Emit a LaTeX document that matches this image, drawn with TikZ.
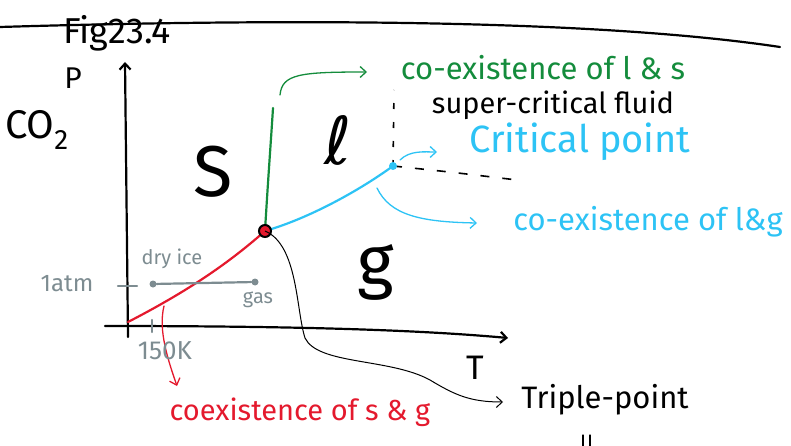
\documentclass[tikz,border=0pt]{standalone}
\usepackage{fontspec}
\setmainfont{Fira Sans}
\newfontfamily\scriptell{DejaVu Sans}
\usetikzlibrary{arrows.meta}

\definecolor{phgreen}{RGB}{20,140,60}
\definecolor{phblue}{RGB}{45,195,245}
\definecolor{phred}{RGB}{228,25,45}
\definecolor{phgrey}{RGB}{125,140,145}

\begin{document}
\begin{tikzpicture}[
    x=1pt, y=-1pt,
    ink/.style={line width=2.2pt, line cap=round},
    fine/.style={line width=1.3pt, line cap=round},
    arrow/.style={-{Straight Barb[length=6pt, width=11pt]}},
    txt/.style={inner sep=0pt, font=\fontsize{31}{34}\selectfont},
    phase/.style={inner sep=0pt, font=\fontsize{72}{74}\selectfont},
    small/.style={inner sep=0pt, font=\fontsize{20}{22}\selectfont, text=phgrey},
    dot/.style={circle, inner sep=0pt, minimum size=8pt}
]
    \useasboundingbox (0,0) rectangle (791,446);

    % Heading rule and title
    \coordinate (ruleL) at (0,27);
    \coordinate (ruleR) at (780,47);
    \draw[ink] (ruleL) .. controls (300,18) and (600,20) .. (ruleR);
    \node[txt, font=\fontsize{36}{38}\selectfont] (fig) at (117,33) {Fig23.4};
    \node[txt, font=\fontsize{30}{32}\selectfont] (plabel) at (73,78) {P};
    \node[txt, font=\fontsize{40}{42}\selectfont] (co2) at (37,130) {CO\textsubscript{2}};

    % Axes
    \coordinate (ybot) at (128,337);
    \coordinate (ytop) at (125,62);
    \coordinate (xleft) at (105,326);
    \coordinate (xright) at (508,338);
    \draw[ink, arrow] (ybot) -- (ytop);
    \draw[ink, arrow] (xleft) .. controls (300,326) and (420,330) .. (xright);
    \node[txt, font=\fontsize{34}{36}\selectfont] (tlabel) at (475,368) {T};

    % Phase boundaries
    \coordinate (o) at (128,322);
    \coordinate (tp) at (265,231);
    \coordinate (cp) at (393,166);
    \coordinate (melt) at (273,108);
    \draw[phred, ink] (o) .. controls (190,290) and (230,262) .. (tp);
    \draw[phgreen, ink] (tp) .. controls (268,180) and (271,140) .. (melt);
    \draw[phblue, ink] (tp) .. controls (310,218) and (360,190) .. (cp);

    % Phases
    \node[phase] (solid) at (213,172) {S};
    \node[phase, font=\fontsize{66}{68}\selectfont] (liquid) at (338,140) {\scriptell ℓ};
    \node[phase, font=\fontsize{70}{72}\selectfont] (gas) at (376,272) {g};

    % Super-critical region
    \coordinate (scTop) at (394,90);
    \coordinate (scEnd) at (517,180);
    \draw[line width=1.6pt, dash pattern=on 6pt off 13pt] (cp) -- (scTop);
    \draw[line width=1.6pt, dash pattern=on 9pt off 13pt] (cp) .. controls (450,172) .. (scEnd);
    \node[txt, font=\fontsize{29}{31}\selectfont] (fluid) at (553,105) {super-critical fluid};

    % Points
    \node[dot, fill=phblue] (cpdot) at (cp) {};
    \node[dot, fill=phred, draw=black, line width=2pt, minimum size=12pt] (tpdot) at (tp) {};

    % Annotations
    \node[txt, text=phgreen] (lsnote) at (543,68) {co-existence of l \& s};
    \coordinate (lsfoot) at (280,95);
    \coordinate (lstip) at (367,72);
    \draw[phgreen, fine, arrow] (lsfoot) .. controls (282,74) and (300,72) .. (lstip);

    \node[txt, text=phblue, font=\fontsize{38}{40}\selectfont] (cpnote) at (580,142) {Critical point};
    \coordinate (cpfoot) at (400,160);
    \coordinate (cptip) at (437,152);
    \draw[phblue, fine, arrow] (cpfoot) .. controls (410,150) and (425,152) .. (cptip);

    \node[txt, text=phblue] (lgnote) at (648,222) {co-existence of l\&g};
    \coordinate (lgfoot) at (377,188);
    \coordinate (lgtip) at (477,223);
    \draw[phblue, fine, arrow] (lgfoot) .. controls (390,215) and (420,222) .. (lgtip);

    \node[txt, text=phred, font=\fontsize{29}{31}\selectfont] (sgnote) at (300,412) {coexistence of s \& g};
    \coordinate (sgfoot) at (164,306);
    \coordinate (sgtip) at (177,386);
    \draw[phred, fine, arrow] (sgfoot) .. controls (158,330) and (168,360) .. (sgtip);

    \node[txt] (tpnote) at (605,400) {Triple-point};
    \coordinate (tptip) at (503,402);
    \draw[line width=1pt, arrow] (tp) .. controls (298,245) and (296,310) .. (305,338)
        .. controls (318,365) and (390,358) .. (430,380)
        .. controls (455,395) and (470,402) .. (tptip);
    \coordinate (eqA) at (583,435);
    \coordinate (eqB) at (590,435);
    \draw[fine] (eqA) -- ++(0,12);
    \draw[fine] (eqB) -- ++(0,12);

    % Dry ice at 1 atm
    \node[small, font=\fontsize{24}{26}\selectfont] (atm) at (67,284) {1atm};
    \coordinate (atmL) at (118,286);
    \coordinate (atmR) at (137,286);
    \draw[phgrey, ink] (atmL) -- (atmR);
    \node[dot, fill=phgrey, minimum size=7pt] (ice) at (153,284) {};
    \node[dot, fill=phgrey, minimum size=7pt] (vapour) at (255,282) {};
    \draw[phgrey, ink] (ice) -- (vapour);
    \node[small] (icelabel) at (172,259) {dry ice};
    \node[small] (gaslabel) at (258,300) {gas};
    \coordinate (kTop) at (152,320);
    \coordinate (kBot) at (152,332);
    \draw[phgrey, ink] (kTop) -- (kBot);
    \node[small, font=\fontsize{26}{28}\selectfont] (klabel) at (165,351) {150K};
\end{tikzpicture}
\end{document}
